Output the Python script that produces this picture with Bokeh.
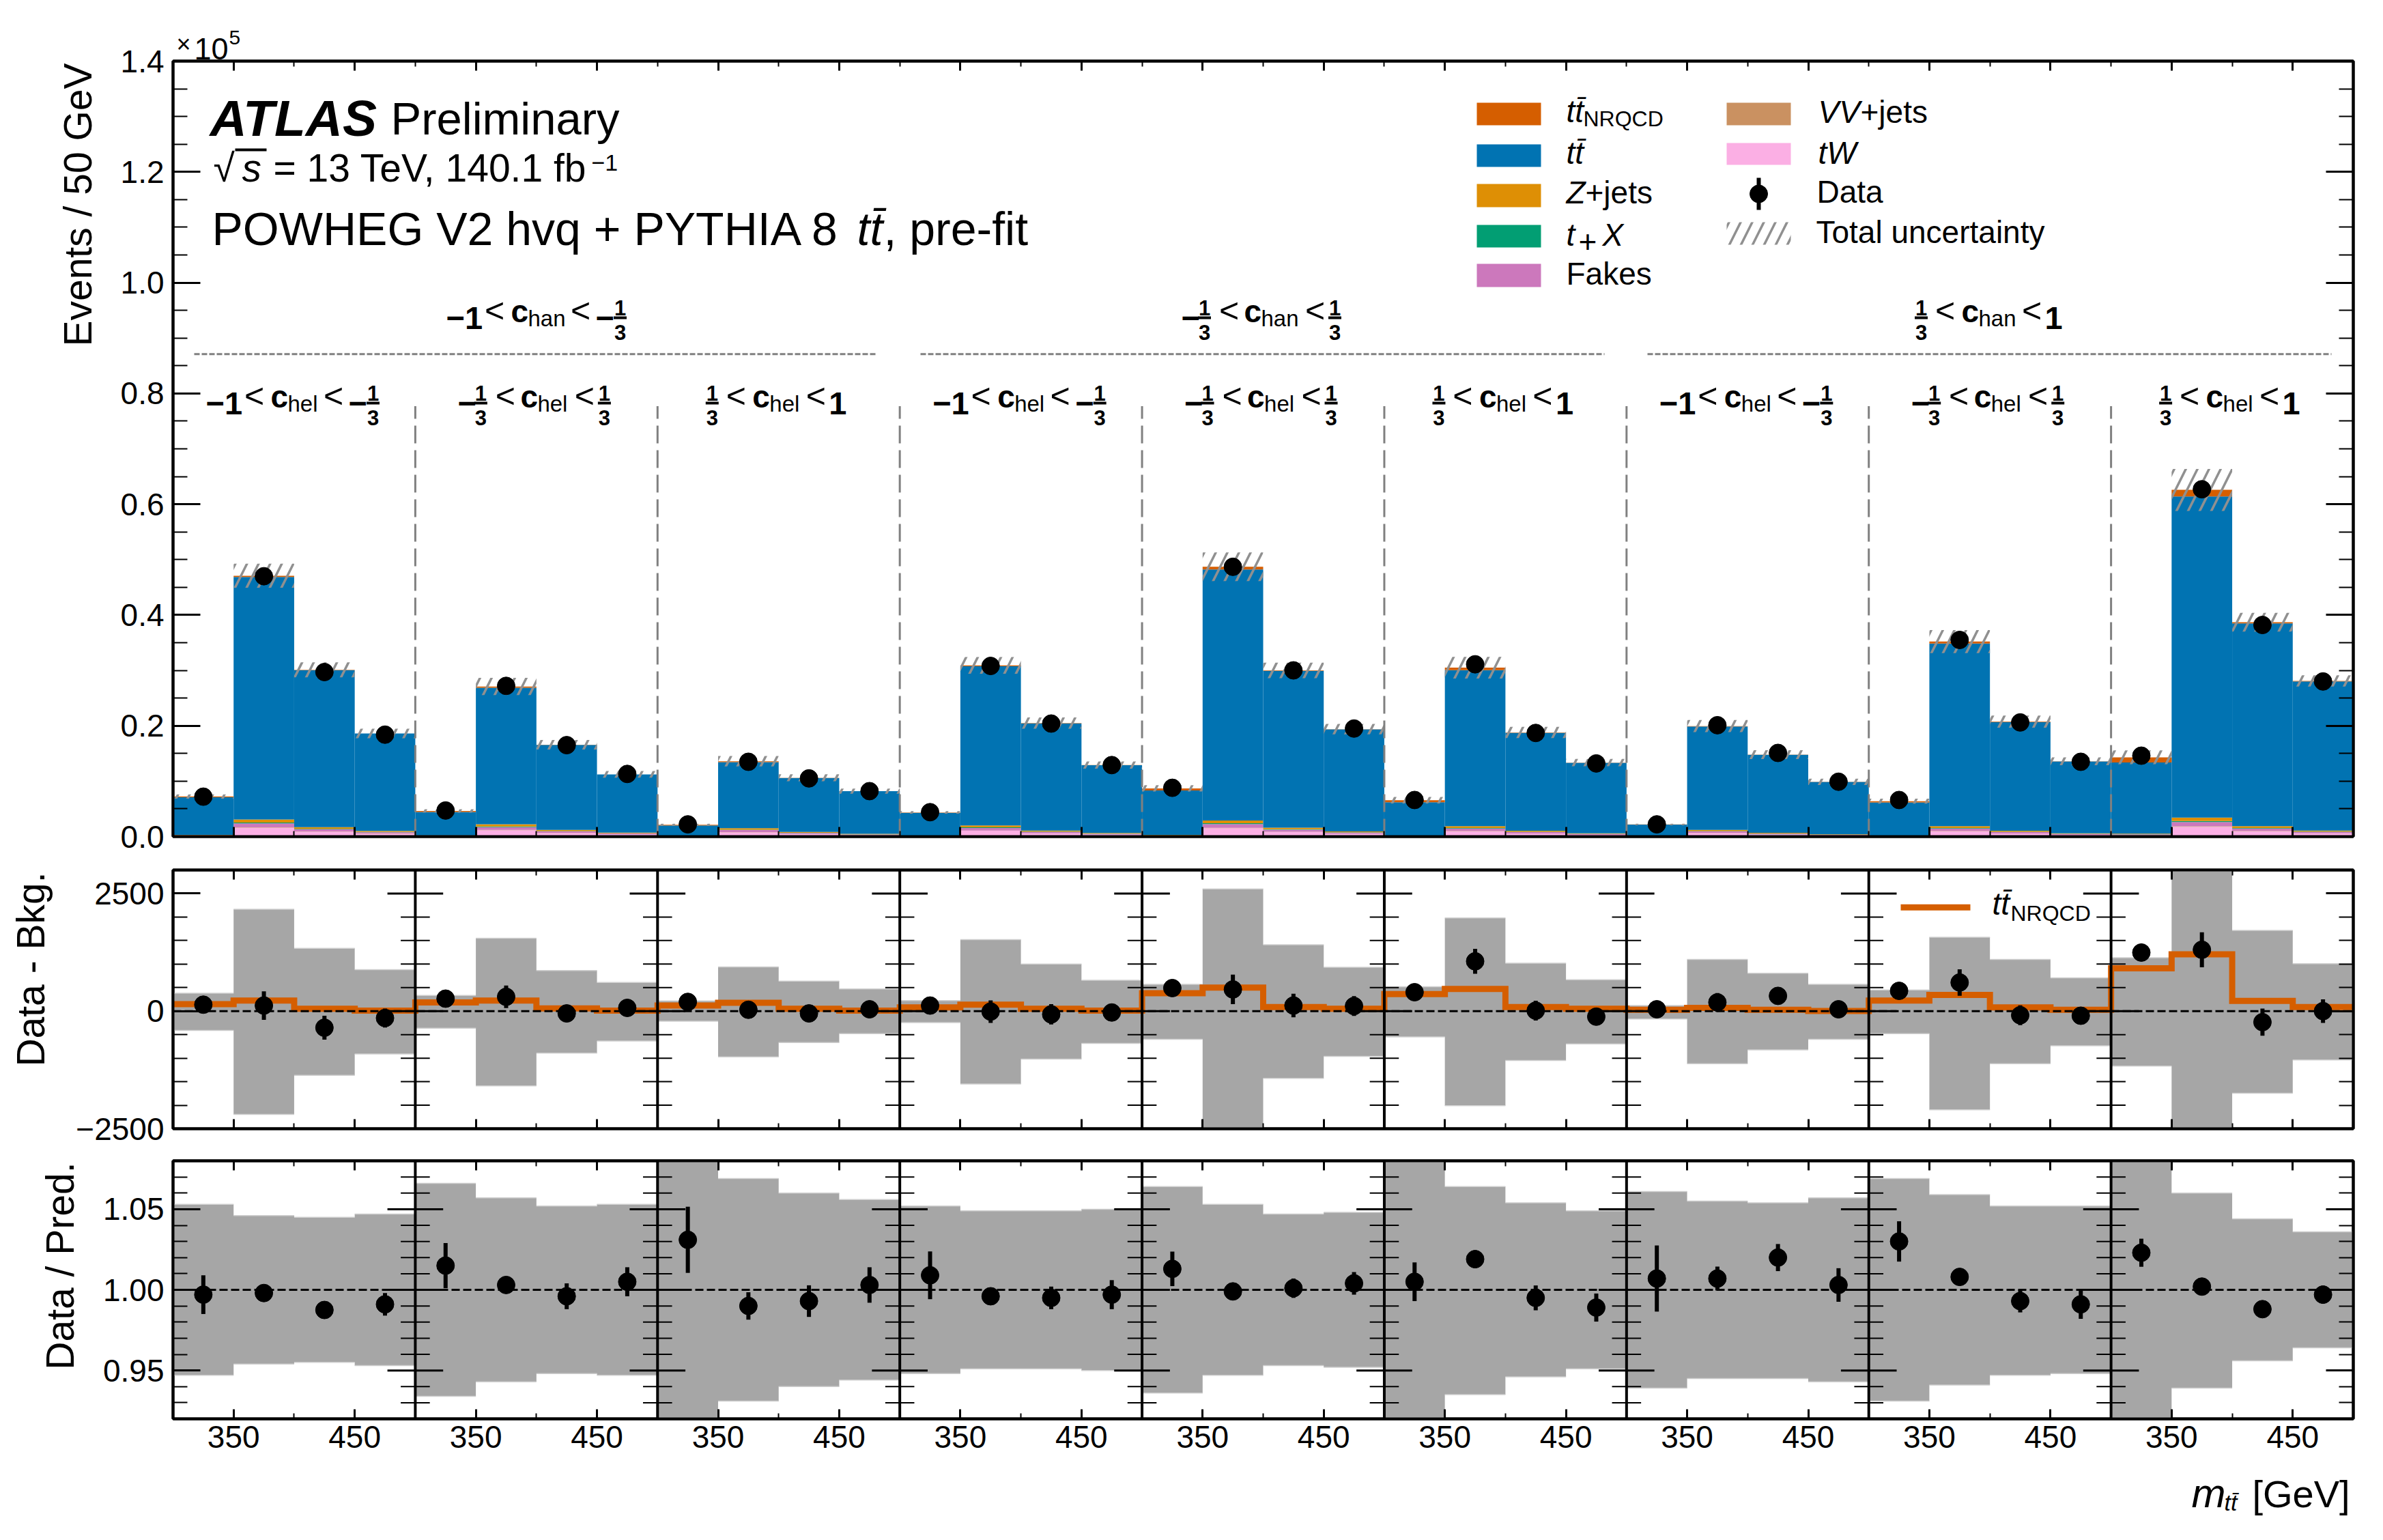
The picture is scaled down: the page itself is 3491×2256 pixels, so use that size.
from bokeh.plotting import figure
from bokeh.layouts import column
from bokeh.models import Label, LinearAxis, FixedTicker, Range1d
from bokeh.embed import file_html
from bokeh.resources import INLINE

FONT = "Liberation Sans"
BIN = 50
NSUB = 9
NBIN = 4

xt_major = ["350", "450"]
y1_major = [0.0, 0.2, 0.4, 0.6, 0.8, 1.0, 1.2, 1.4]
y1_minor = [.05, .1, .15, .25, .3, .35, .45, .5, .55, .65, .7, .75, .85, .9, .95, 1.05, 1.1, 1.15, 1.25, 1.3, 1.35]

# stack components, in units of 1e5 events
tW = [.0016,.0160,.0088,.0052, .0011,.0115,.0063,.0037, .0008,.0078,.0043,.0025,
      .0010,.0104,.0057,.0033, .0015,.0151,.0083,.0048, .0010,.0097,.0054,.0031,
      .0006,.0063,.0035,.0020, .0010,.0097,.0054,.0031, .0026,.0177,.0097,.0057]
VV = [.0001,.0006,.0003,.0002, .0000,.0004,.0002,.0001, .0000,.0003,.0002,.0001,
      .0000,.0004,.0002,.0001, .0001,.0006,.0003,.0002, .0000,.0004,.0002,.0001,
      .0000,.0002,.0001,.0001, .0000,.0004,.0002,.0001, .0001,.0007,.0004,.0002]
fakes = [.0007,.0071,.0039,.0023, .0005,.0051,.0028,.0016, .0003,.0035,.0019,.0011,
         .0005,.0046,.0025,.0015, .0007,.0067,.0037,.0021, .0004,.0043,.0024,.0014,
         .0003,.0028,.0015,.0009, .0004,.0043,.0024,.0014, .0012,.0078,.0043,.0025]
tX = [.0002,.0017,.0009,.0006, .0001,.0012,.0007,.0004, .0001,.0008,.0005,.0003,
      .0001,.0011,.0006,.0004, .0002,.0016,.0009,.0005, .0001,.0010,.0006,.0003,
      .0001,.0007,.0004,.0002, .0001,.0010,.0006,.0003, .0003,.0019,.0010,.0006]
zjets = [.0005,.0054,.0030,.0018, .0004,.0039,.0021,.0012, .0003,.0026,.0015,.0008,
         .0004,.0035,.0019,.0011, .0005,.0051,.0028,.0016, .0003,.0033,.0018,.0011,
         .0002,.0021,.0012,.0007, .0003,.0033,.0018,.0011, .0009,.0060,.0033,.0019]
ttbar = [.0677,.4378,.2835,.1759, .0422,.2466,.1532,.1052, .0186,.1192,.0972,.0771,
         .0408,.2876,.1935,.1225, .0802,.4530,.2831,.1842, .0602,.2816,.1768,.1270,
         .0203,.1867,.1410,.0948, .0598,.3299,.1964,.1297, .1286,.5799,.3661,.2692]
nrqcd = [147,225,49,10, 186,225,59,10, 118,176,49,10,
         78,137,49,10, 382,500,88,49, 363,470,88,49,
         30,69,30,5, 225,343,78,29, 912,1206,216,88]

data_evt = [.072,.470,.297,.184, .047,.272,.165,.113, .022,.135,.105,.082,
            .044,.308,.204,.129, .088,.487,.300,.195, .066,.311,.187,.132,
            .022,.201,.151,.099, .066,.355,.206,.135, .146,.627,.382,.280]

diff_val = [137,118,-353,-147, 265,304,-49,69, 196,29,-49,39,
            118,-10,-69,-29, 490,461,118,108, 402,1059,10,-118,
            39,186,324,39, 431,608,-88,-98, 1245,1304,-235,0]
diff_err = [150,304,255,201, 120,240,157,150, 100,150,120,100,
            100,240,216,120, 150,314,250,211, 140,265,211,150,
            60,200,180,100, 150,280,211,130, 150,373,289,250]
diff_up = [382,2167,1333,882, 333,1549,863,608, 216,941,637,471,
           225,1520,1000,657, 569,2598,1412,931, 520,1980,1020,667,
           118,1098,804,569, 451,1569,1098,706, 1137,3100,1716,1010]
diff_lo = [-412,-2196,-1363,-912, -363,-1588,-892,-637, -216,-971,-667,-480,
           -245,-1549,-1020,-686, -598,-2600,-1431,-961, -549,-2010,-1049,-696,
           -167,-1118,-824,-598, -480,-2098,-1118,-735, -1167,-3100,-1745,-1039]

ratio_val = [.997,.998,.9875,.991, 1.015,1.003,.996,1.005, 1.031,.990,.993,1.003,
             1.009,.996,.995,.997, 1.013,.999,1.001,1.004, 1.005,1.019,.995,.989,
             1.007,1.007,1.020,1.003, 1.030,1.008,.993,.991, 1.023,1.002,.988,.997]
ratio_err = [.012,.004,.005,.007, .014,.005,.008,.009, .0205,.0085,.0098,.011,
             .0148,.005,.007,.009, .0107,.003,.006,.007, .012,.0055,.0077,.0087,
             .0205,.0074,.0084,.0104, .0125,.004,.007,.009, .0087,.003,.003,.0055]
ratio_up = [1.053,1.046,1.045,1.047, 1.066,1.057,1.052,1.053, 1.09,1.069,1.060,1.056,
            1.052,1.049,1.049,1.050, 1.064,1.053,1.047,1.048, 1.09,1.064,1.054,1.049,
            1.061,1.055,1.054,1.057, 1.069,1.059,1.052,1.052, 1.09,1.060,1.044,1.036]
ratio_lo = [.947,.954,.955,.953, .934,.943,.948,.947, .91,.931,.940,.944,
            .948,.951,.951,.950, .936,.947,.953,.952, .91,.935,.946,.951,
            .939,.945,.945,.943, .931,.941,.947,.948, .915,.939,.956,.964]

COL_NRQCD = "#D55E00"
COL_TT = "#0173B2"
COL_Z = "#DE8F05"
COL_TX = "#029E73"
COL_FAKE = "#CC78BC"
COL_VV = "#CA9161"
COL_TW = "#FBAFE4"
GREY = "#A6A6A6"
EDGE = "#cfcfcf"
HATCH = "#909090"

# page geometry of the frames (pixels in the photographed page)
FX0, FX1 = 253, 3447
FW = FX1 - FX0
XMAX = NSUB * NBIN * BIN
SUBW = NBIN * BIN
F1 = (89, 1225)
F2 = (1274, 1653)
F3 = (1700, 2078)
TOP1, BOT1 = 89, 33
TOP2, BOT2 = 16, 30
TOP3, BOT3 = 17, 80
ORIG1 = 0
ORIG2 = F1[1] + BOT1
ORIG3 = F2[1] + BOT2
ORIG4 = F3[1] + BOT3
PAGE_H = 2254
RIGHT = 38
DESC = 0.2

N = NSUB * NBIN
left = [i * BIN for i in range(N)]
right = [(i + 1) * BIN for i in range(N)]
center = [(i + .5) * BIN for i in range(N)]
boundaries = [k * SUBW for k in range(1, NSUB)]
xmajor = [k * SUBW + d for k in range(NSUB) for d in (50, 150)]
xminor = [k * SUBW + d for k in range(NSUB) for d in (100, 200)]
xlabels = {k * SUBW + d: t for k in range(NSUB) for d, t in zip((50, 150), xt_major)}


def make_fig(frame, ylim, ticks, minor, overrides, top, bottom, show_x=False):
    p = figure(width=FX0 + FW + RIGHT, height=top + (frame[1] - frame[0]) + bottom,
               frame_width=FW, frame_height=frame[1] - frame[0],
               x_range=Range1d(0, XMAX), y_range=Range1d(*ylim),
               output_backend="svg", toolbar_location=None,
               min_border_left=FX0, min_border_right=RIGHT,
               min_border_top=top, min_border_bottom=bottom)
    p.xaxis.visible = False
    p.yaxis.visible = False
    p.grid.visible = False
    p.outline_line_color = "black"
    p.outline_line_width = 4
    yt = FixedTicker(ticks=ticks, minor_ticks=minor)
    xt = FixedTicker(ticks=xmajor, minor_ticks=xminor)
    style = dict(axis_line_color="black", axis_line_width=4,
                 major_tick_out=0, minor_tick_out=0,
                 major_tick_line_color="black", minor_tick_line_color="black",
                 major_tick_line_width=3, minor_tick_line_width=2,
                 major_label_text_font=FONT)
    ya = LinearAxis(ticker=yt, major_tick_in=40, minor_tick_in=21,
                    major_label_text_font_size="46px", major_label_standoff=13,
                    major_label_text_color="black",
                    major_label_overrides=overrides, **style)
    p.add_layout(ya, "left")
    yb = LinearAxis(ticker=yt, major_tick_in=40, minor_tick_in=21,
                    major_label_text_font_size="0px", major_label_standoff=0,
                    major_label_text_color=None, **style)
    p.add_layout(yb, "right")
    xa = LinearAxis(ticker=xt, major_tick_in=14, minor_tick_in=8,
                    major_label_text_font_size="46px" if show_x else "0px",
                    major_label_standoff=10 if show_x else 0,
                    major_label_overrides=xlabels,
                    major_label_text_color="black" if show_x else None, **style)
    p.add_layout(xa, "below")
    xb = LinearAxis(ticker=xt, major_tick_in=14, minor_tick_in=8,
                    major_label_text_font_size="0px", major_label_standoff=0,
                    major_label_text_color=None, **style)
    p.add_layout(xb, "above")
    return p


def put(p, orig, px, base, text, size, style="normal", align="left", side=None):
    lab = Label(x=px, y=base - orig + DESC * size, x_units="canvas", y_units="canvas",
                text=text, text_font=FONT, text_font_size=f"{size}px",
                text_font_style=style, text_color="black", text_align=align,
                text_baseline="bottom")
    if side:
        p.add_layout(lab, side)
    else:
        p.add_layout(lab)


def put_rot(p, orig, base_x, top_y_px, text, size):
    p.add_layout(Label(x=base_x + DESC * size, y=top_y_px - orig, x_units="canvas", y_units="canvas",
                       text=text, text_font=FONT, text_font_size=f"{size}px",
                       text_color="black", text_align="right", text_baseline="bottom",
                       angle=1.5707963), "left")


def xdata(px):
    return (px - FX0) / FW * XMAX


def top_y(py):
    return (F1[1] - py) / (F1[1] - F1[0]) * 1.4


def frac(p, cx, base):
    put(p, ORIG1, cx, base - 17, "1", 31, "bold", "center")
    put(p, ORIG1, cx, base + 19, "3", 31, "bold", "center")
    p.quad(left=[xdata(cx - 9.5)], right=[xdata(cx + 9.5)], top=[top_y(base - 9)],
           bottom=[top_y(base - 5)], fill_color="black", line_color=None)


def cpart(p, x, base, sub):
    put(p, ORIG1, x, base, "c", 46, "bold")
    put(p, ORIG1, x + 25, base + 6, sub, 33)


def lt(p, cx, base):
    put(p, ORIG1, cx, base, "<", 50, align="center")


def form_a(p, s, base, sub, extra=0):
    put(p, ORIG1, s, base, "\u22121", 47, "bold")
    lt(p, s + 71, base)
    cpart(p, s + 95, base, sub)
    lt(p, s + 187 + extra, base)
    put(p, ORIG1, s + 209 + extra, base, "\u2212", 47, "bold")
    frac(p, s + 245 + extra, base)


def form_b(p, s, base, sub, extra=0):
    put(p, ORIG1, s, base, "\u2212", 47, "bold")
    frac(p, s + 34, base)
    lt(p, s + 70, base)
    cpart(p, s + 92, base, sub)
    lt(p, s + 186 + extra, base)
    frac(p, s + 215 + extra, base)


def form_c(p, s, base, sub, extra=0):
    frac(p, s, base)
    lt(p, s + 35, base)
    cpart(p, s + 59, base, sub)
    lt(p, s + 152 + extra, base)
    put(p, ORIG1, s + 171 + extra, base, "1", 47, "bold")


# ---------- top panel ----------
p1 = make_fig(F1, (0, 1.4), y1_major, y1_minor, {v: f"{v:.1f}" for v in y1_major}, TOP1, BOT1)

stack = [(tW, COL_TW), (VV, COL_VV), (fakes, COL_FAKE), (tX, COL_TX),
         (zjets, COL_Z), (ttbar, COL_TT), ([v / 1e5 for v in nrqcd], COL_NRQCD)]
base_y = [0.0] * N
for vals, col in stack:
    top = [b + v for b, v in zip(base_y, vals)]
    p1.quad(left=left, right=right, bottom=base_y, top=top, fill_color=col,
            line_color=None)
    base_y = top
total = base_y
p1.quad(left=left, right=right,
        bottom=[t * r for t, r in zip(total, ratio_lo)],
        top=[t * r for t, r in zip(total, ratio_up)],
        fill_alpha=0, line_alpha=0, hatch_pattern="right_diagonal_line",
        hatch_color=HATCH, hatch_weight=3.5, hatch_scale=34)
p1.segment(x0=boundaries, x1=boundaries, y0=[0] * 8, y1=[.777] * 8,
           line_color="#808080", line_width=3, line_dash="26 10")
for a, b in ((284, 1283), (1348, 2350), (2413, 3415)):
    p1.segment(x0=[xdata(a)], x1=[xdata(b)], y0=[.871], y1=[.871],
               line_color="#808080", line_width=3, line_dash="8 3")
p1.scatter(center, data_evt, size=26, color="black")

put(p1, ORIG1, 258, 77, "\u00d7", 36, side="left")
put(p1, ORIG1, 284, 77, "10", 45, side="left")
put(p1, ORIG1, 335, 58, "5", 30, side="left")
put_rot(p1, ORIG1, 134, 92, "Events / 50 GeV", 57)
put(p1, ORIG1, 307, 199, "ATLAS", 75, "bold italic")
put(p1, ORIG1, 572, 197, "Preliminary", 67)
put(p1, ORIG1, 312, 266, "\u221a", 57)
p1.quad(left=[xdata(344)], right=[xdata(390)], top=[top_y(217)], bottom=[top_y(221)],
        fill_color="black", line_color=None)
put(p1, ORIG1, 354, 266, "s", 57, "italic")
put(p1, ORIG1, 400, 266, "= 13 TeV, 140.1 fb", 57)
put(p1, ORIG1, 866, 243, "\u22121", 34)
put(p1, ORIG1, 310, 359, "POWHEG V2 hvq + PYTHIA 8", 68)
put(p1, ORIG1, 1255, 359, "tt\u0304", 68, "italic")
put(p1, ORIG1, 1294, 359, ", pre-fit", 68)

# region labels
BASE_HEL = 597
for k in range(NSUB):
    s = FX0 + k * FW / NSUB
    if k % 3 == 0:
        form_a(p1, s + 48, BASE_HEL, "hel")
    elif k % 3 == 1:
        form_b(p1, s + 62, BASE_HEL, "hel")
    else:
        form_c(p1, s + 80, BASE_HEL, "hel")
BASE_HAN = 472
form_a(p1, 653, BASE_HAN, "han", 10)
form_b(p1, 1730, BASE_HAN, "han", 10)
form_c(p1, 2814, BASE_HAN, "han", 10)

# legend
def swatch(x0, x1, y0, y1, **kw):
    p1.quad(left=[xdata(x0)], right=[xdata(x1)], top=[top_y(y0)], bottom=[top_y(y1)], **kw)

rows1 = [(150, 183, COL_NRQCD), (211, 244, COL_TT), (269, 303, COL_Z), (329, 362, COL_TX), (386, 420, COL_FAKE)]
for y0, y1, c in rows1:
    swatch(2163, 2257, y0, y1, fill_color=c, line_color=None)
swatch(2529, 2623, 150, 183, fill_color=COL_VV, line_color=None)
swatch(2529, 2623, 209, 241, fill_color=COL_TW, line_color=None)
swatch(2529, 2623, 325, 358, fill_alpha=0, line_alpha=0, hatch_pattern="right_diagonal_line",
       hatch_color=HATCH, hatch_weight=3.5, hatch_scale=34)
p1.segment(x0=[xdata(2576)], x1=[xdata(2576)], y0=[top_y(260)], y1=[top_y(307)],
           line_color="black", line_width=6)
p1.scatter([xdata(2576)], [top_y(283.5)], size=26, color="black")

put(p1, ORIG1, 2294, 179, "tt\u0304", 46, "italic")
put(p1, ORIG1, 2319, 185, "NRQCD", 32)
put(p1, ORIG1, 2294, 240, "tt\u0304", 46, "italic")
put(p1, ORIG1, 2294, 298, "Z", 46, "italic")
put(p1, ORIG1, 2322, 298, "+jets", 46)
put(p1, ORIG1, 2294, 360, "t", 46, "italic")
put(p1, ORIG1, 2312, 360, "+", 46)
put(p1, ORIG1, 2347, 360, "X", 46, "italic")
put(p1, ORIG1, 2294, 417, "Fakes", 46)
put(p1, ORIG1, 2663, 180, "VV", 46, "italic")
put(p1, ORIG1, 2725, 180, "+jets", 46)
put(p1, ORIG1, 2663, 240, "tW", 46, "italic")
put(p1, ORIG1, 2661, 297, "Data", 46)
put(p1, ORIG1, 2660, 356, "Total uncertainty", 46)


def inner_ticks(p, majors, minors):
    for b in boundaries:
        p.segment(x0=[b - 23] * len(majors), x1=[b + 23] * len(majors), y0=majors, y1=majors,
                  line_color="black", line_width=3)
        p.segment(x0=[b - 12] * len(minors), x1=[b + 12] * len(minors), y0=minors, y1=minors,
                  line_color="black", line_width=2)


def dividers(p, lo, hi):
    p.segment(x0=boundaries, x1=boundaries, y0=[lo] * 8, y1=[hi] * 8,
              line_color="black", line_width=4)


def steps(vals):
    xs, ys = [], []
    for l, r, v in zip(left, right, vals):
        xs += [l, r]
        ys += [v, v]
    return xs, ys


def band(p, lo, hi):
    xs, ys_lo = steps(lo)
    _, ys_hi = steps(hi)
    p.varea(x=xs, y1=ys_lo, y2=ys_hi, fill_color=GREY)
    p.segment(x0=left, x1=right, y0=hi, y1=hi, line_color=EDGE, line_width=1.5)
    p.segment(x0=left, x1=right, y0=lo, y1=lo, line_color=EDGE, line_width=1.5)


def points(p, vals, errs):
    p.segment(x0=center, x1=center, y0=[v - e for v, e in zip(vals, errs)],
              y1=[v + e for v, e in zip(vals, errs)], line_color="black", line_width=6)
    p.scatter(center, vals, size=26, color="black")


# ---------- data - background panel ----------
y2_major = [-2500, 0, 2500]
y2_minor = [-2000, -1500, -1000, -500, 500, 1000, 1500, 2000]
p2 = make_fig(F2, (-2500, 3000), y2_major, y2_minor,
              {-2500: "\u22122500", 0: "0", 2500: "2500"}, TOP2, BOT2)
band(p2, diff_lo, diff_up)
step_x, step_y = steps(nrqcd)
p2.line(step_x, step_y, line_color=COL_NRQCD, line_width=9, line_join="miter")
p2.segment(x0=[0], x1=[XMAX], y0=[0], y1=[0], line_color="black", line_width=3, line_dash="12 5")
inner_ticks(p2, y2_major, y2_minor)
dividers(p2, -2500, 3000)
points(p2, diff_val, diff_err)
put_rot(p2, ORIG2, 65, 1277, "Data - Bkg.", 57)
p2.line([xdata(2784), xdata(2886)], [2205, 2205], line_color=COL_NRQCD, line_width=9)
put(p2, ORIG2, 2918, 1340, "tt\u0304", 46, "italic")
put(p2, ORIG2, 2945, 1349, "NRQCD", 32)

# ---------- ratio panel ----------
y3_major = [.95, 1.0, 1.05]
y3_minor = [.93, .94, .96, .97, .98, .99, 1.01, 1.02, 1.03, 1.04, 1.06, 1.07]
p3 = make_fig(F3, (.92, 1.08), y3_major, y3_minor,
              {.95: "0.95", 1.0: "1.00", 1.05: "1.05"}, TOP3, BOT3, show_x=True)
band(p3, ratio_lo, ratio_up)
p3.segment(x0=[0], x1=[XMAX], y0=[1], y1=[1], line_color="black", line_width=3, line_dash="12 5")
inner_ticks(p3, y3_major, y3_minor)
dividers(p3, .92, 1.08)
points(p3, ratio_val, ratio_err)
put_rot(p3, ORIG3, 108, 1702, "Data / Pred.", 57)

# ---------- strip under the ratio panel holding the x-axis title ----------
p4 = figure(width=FX0 + FW + RIGHT, height=PAGE_H - ORIG4, x_range=Range1d(0, 1), y_range=Range1d(0, 1),
            x_axis_type=None, y_axis_type=None, output_backend="svg", toolbar_location=None,
            min_border_left=0, min_border_right=0, min_border_top=0, min_border_bottom=0)
p4.outline_line_color = None
p4.grid.visible = False
put(p4, ORIG4, 3210, 2208, "m", 60, "italic")
put(p4, ORIG4, 3258, 2213, "tt\u0304", 34, "italic")
put(p4, ORIG4, 3299, 2208, "[GeV]", 56)

layout = column(p1, p2, p3, p4, spacing=0)
open("out.html", "w").write(file_html(layout, INLINE))
